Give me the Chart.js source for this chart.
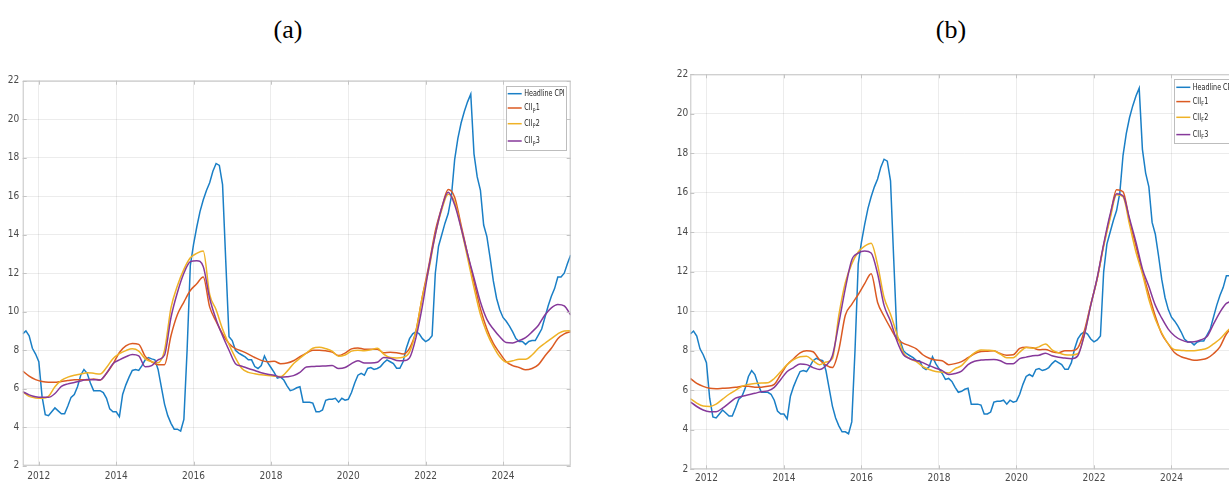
<!DOCTYPE html>
<html>
<head>
<meta charset="utf-8">
<script src="https://cdn.jsdelivr.net/npm/chart.js@4.4.1/dist/chart.umd.min.js"></script>
<style>
  html, body { margin: 0; padding: 0; background: #fff; overflow: hidden; width: 1229px; height: 482px; }
  .panel { position: absolute; }
  .cap { position: absolute; font-family: "Liberation Serif", "Times New Roman", serif; font-size: 26px; color: #000; transform: translate(-50%, -50%); white-space: nowrap; }
</style>
</head>
<body>
<div class="cap" style="left:288px; top:30px">(a)</div>
<div class="cap" style="left:951px; top:30px">(b)</div>
<canvas id="chartA" class="panel" width="590" height="440" style="left:0; top:60px; width:590px; height:440px"></canvas>
<canvas id="chartB" class="panel" width="600" height="440" style="left:660px; top:60px; width:600px; height:440px"></canvas>
<script>
// Headline CPI, monthly, Aug 2011 .. Oct 2025 (y/y %)
const cpiHeadline = [
  8.85, 9.0, 8.75, 8.1, 7.8,
  7.4, 5.6, 4.65, 4.6, 4.8, 5.0, 4.85, 4.7, 4.7, 5.1, 5.55, 5.7,
  6.1, 6.7, 7.0, 6.8, 6.3, 5.9, 5.9, 5.9, 5.8, 5.5, 4.95, 4.8,
  4.8, 4.55, 5.7, 6.2, 6.6, 6.95, 7.0, 6.95, 7.2, 7.5, 7.62, 7.55,
  7.5, 7.0, 6.1, 5.2, 4.6, 4.2, 3.9, 3.9, 3.8, 4.4, 8.0, 12.4,
  13.5, 14.4, 15.2, 15.8, 16.3, 16.7, 17.3, 17.7, 17.6, 16.6, 12.6, 8.7,
  8.5, 8.0, 7.85, 7.75, 7.65, 7.5, 7.5, 7.15, 7.05, 7.2, 7.7, 7.35,
  7.1, 6.85, 6.55, 6.6, 6.45, 6.15, 5.9, 5.95, 6.05, 6.1, 5.3, 5.3,
  5.3, 5.25, 4.8, 4.8, 4.9, 5.4, 5.45, 5.45, 5.5, 5.3, 5.5, 5.4,
  5.45, 5.8, 6.3, 6.7, 6.8, 6.7, 7.05, 7.1, 7.0, 7.05, 7.15, 7.35,
  7.5, 7.4, 7.3, 7.06, 7.06, 7.4, 8.1, 8.6, 8.85, 8.96, 8.85, 8.6,
  8.45, 8.55, 8.75, 12.0, 13.4, 14.0, 14.6, 15.1, 16.0, 17.9, 19.0, 19.8,
  20.4, 20.9, 21.3, 18.2, 17.0, 16.3, 14.5, 13.9, 12.8, 11.6, 10.7, 10.1,
  9.7, 9.5, 9.25, 8.95, 8.6, 8.45, 8.45, 8.3, 8.45, 8.5, 8.5, 8.8,
  9.1, 9.7, 10.3, 10.8, 11.2, 11.8, 11.8, 12.0, 12.5, 12.95
];

// Core inflation indicators, every second month, Aug 2011 .. Oct 2025
const ciiP1 = [
  6.92, 6.65, 6.47, 6.37, 6.33, 6.33, 6.38, 6.42, 6.47, 6.47,
  6.45, 6.5, 6.45, 6.8, 7.28, 7.88, 8.22, 8.35, 8.3, 7.68,
  7.4, 7.25, 7.25, 8.75, 9.85, 10.5, 11.1, 11.45, 11.8, 10.25,
  9.5, 8.85, 8.35, 8.08, 7.95, 7.8, 7.62, 7.47, 7.4, 7.42,
  7.3, 7.33, 7.45, 7.66, 7.85, 8.0, 8.0, 7.97, 7.9, 7.72,
  7.85, 8.07, 8.12, 8.05, 8.05, 8.05, 7.87, 7.9, 7.87, 7.8,
  8.1, 9.0, 10.8, 12.4, 14.2, 15.4, 16.35, 15.95, 14.5, 13.0,
  11.55, 10.15, 9.1, 8.35, 7.85, 7.4, 7.2, 7.1, 6.98, 7.05,
  7.25, 7.7, 8.1, 8.6, 8.85, 8.96
];
const ciiP2 = [
  5.85, 5.6, 5.52, 5.5, 5.6, 6.1, 6.43, 6.6, 6.7, 6.76,
  6.83, 6.8, 6.76, 7.1, 7.56, 7.82, 7.98, 8.07, 7.95, 7.55,
  7.4, 7.35, 8.0, 10.2, 11.35, 12.2, 12.8, 13.03, 13.15, 10.9,
  10.1, 9.1, 8.3, 7.6, 7.05, 6.85, 6.78, 6.72, 6.68, 6.65,
  6.63, 6.9, 7.3, 7.58, 7.85, 8.1, 8.15, 8.08, 7.95, 7.68,
  7.75, 7.95, 8.0, 7.97, 8.02, 8.1, 7.8, 7.62, 7.6, 7.63,
  7.9, 9.0, 10.8, 12.2, 14.0, 15.3, 16.1, 15.7, 14.35, 12.8,
  11.25, 9.85, 8.9, 8.2, 7.66, 7.38, 7.45, 7.53, 7.53, 7.75,
  8.1, 8.36, 8.6, 8.85, 9.0, 9.01
];
const ciiP3 = [
  5.85, 5.68, 5.58, 5.55, 5.55, 5.75, 6.12, 6.25, 6.32, 6.4,
  6.48, 6.47, 6.45, 6.8, 7.3, 7.5, 7.66, 7.78, 7.7, 7.14,
  7.2, 7.5, 7.75, 9.7, 11.0, 12.0, 12.6, 12.65, 12.35, 10.7,
  9.6, 8.75, 8.0, 7.3, 7.17, 7.05, 6.95, 6.83, 6.75, 6.7,
  6.6, 6.62, 6.68, 6.85, 7.13, 7.15, 7.17, 7.18, 7.2, 7.05,
  7.1, 7.3, 7.45, 7.33, 7.33, 7.37, 7.62, 7.58, 7.47, 7.45,
  7.6, 8.65, 10.3, 12.3, 14.0, 15.4, 16.2, 15.55, 14.35, 13.0,
  11.75, 10.5, 9.6, 9.1, 8.7, 8.4, 8.38, 8.5, 8.65, 8.95,
  9.3, 9.83, 10.2, 10.38, 10.3, 9.83
];
const ciiF1 = [
  6.6, 6.35, 6.2, 6.1, 6.08, 6.1, 6.12, 6.15, 6.2, 6.2,
  6.16, 6.16, 6.2, 6.3, 6.8, 7.3, 7.6, 7.9, 8.0, 7.95,
  7.55, 7.28, 7.15, 8.05, 9.8, 10.35, 10.85, 11.4, 11.9, 10.45,
  9.75, 9.15, 8.6, 8.38, 8.25, 8.1, 7.8, 7.62, 7.53, 7.5,
  7.3, 7.35, 7.45, 7.65, 7.85, 7.96, 7.98, 8.0, 7.86, 7.78,
  7.8, 8.12, 8.18, 8.15, 8.05, 8.07, 7.95, 7.9, 8.0, 8.0,
  8.15, 9.0, 10.35, 11.65, 13.35, 14.8, 16.15, 16.05, 14.6, 13.3,
  12.0, 10.85, 9.75, 8.85, 8.35, 7.9, 7.7, 7.6, 7.52, 7.55,
  7.62, 7.85, 8.2, 8.85, 9.2, 9.3
];
const ciiF2 = [
  5.58, 5.35, 5.2, 5.18, 5.3, 5.55, 5.8, 6.0, 6.2, 6.3,
  6.35, 6.37, 6.38, 6.6, 6.95, 7.3, 7.55, 7.7, 7.73, 7.5,
  7.3, 7.43, 7.6, 9.8, 11.45, 12.4, 13.0, 13.3, 13.45, 12.35,
  10.7, 9.85, 8.85, 7.9, 7.6, 7.45, 7.2, 7.05, 6.95, 6.92,
  6.88, 7.1, 7.25, 7.6, 7.9, 8.04, 8.03, 8.0, 7.83, 7.65,
  7.65, 7.93, 8.17, 8.13, 8.2, 8.35, 8.05, 7.9, 7.8, 7.79,
  7.85, 8.8, 10.3, 11.65, 13.3, 14.7, 15.9, 15.8, 14.4, 13.0,
  11.9, 10.6, 9.6, 8.9, 8.35, 8.05, 8.02, 8.0, 8.0, 8.05,
  8.13, 8.35, 8.6, 8.95, 9.25, 9.35
];
const ciiF3 = [
  5.42, 5.18, 5.0, 4.92, 4.92, 5.1, 5.35, 5.6, 5.7, 5.78,
  5.85, 5.93, 5.97, 6.15, 6.55, 6.95, 7.15, 7.33, 7.3, 7.15,
  7.05, 7.25, 7.75, 9.4, 11.15, 12.6, 12.95, 13.05, 12.95, 11.9,
  10.3, 9.5, 8.5, 7.8, 7.6, 7.5, 7.4, 7.25, 7.12, 7.0,
  6.8, 6.85, 6.97, 7.3, 7.47, 7.53, 7.55, 7.56, 7.5, 7.35,
  7.35, 7.6, 7.68, 7.75, 7.78, 7.88, 7.75, 7.67, 7.63, 7.6,
  7.75, 8.8, 10.3, 11.7, 13.4, 14.9, 15.95, 15.85, 14.7, 13.5,
  12.15, 11.25, 10.3, 9.65, 9.1, 8.75, 8.55, 8.45, 8.46, 8.55,
  8.72, 9.35, 9.95, 10.4, 10.5, 10.45
];

// Axis ticks
const yearTicks = [2012, 2014, 2016, 2018, 2020, 2022, 2024];
const valueTicks = [2, 4, 6, 8, 10, 12, 14, 16, 18, 20, 22];

// Series names; CII labels carry a subscript (P = panel a, F = panel b)
const seriesNames = ['Headline CPI', 'CII', 'CII', 'CII'];
const seriesSuffix = ['', '1', '2', '3'];
const seriesColors = ['#1a7fc6', '#DB5A22', '#EFB226', '#86399A'];

// monthly series start in Aug 2011
const monthX = i => 2011 + (7 + i) / 12;
const bimonthX = k => 2011 + (7 + 2 * k) / 12;
const toPoints = (vals, xf) => vals.map((v, i) => ({ x: xf(i), y: v }));

const narrow = '"Liberation Sans Narrow", "DejaVu Sans Condensed", "Arial Narrow", sans-serif';
const FRAME = '#c4c4c4';

// axes box with inward tick marks, drawn over the lines
const framePlugin = {
  id: 'frameBox',
  afterDatasetsDraw(chart) {
    const { ctx, chartArea: a, scales } = chart;
    ctx.save();
    ctx.strokeStyle = FRAME;
    ctx.lineWidth = 1;
    ctx.strokeRect(a.left + 0.5, a.top + 0.5, a.right - a.left - 1, a.bottom - a.top - 1);
    ctx.beginPath();
    const t = 4;
    yearTicks.forEach(v => {
      const x = Math.round(scales.x.getPixelForValue(v)) + 0.5;
      ctx.moveTo(x, a.bottom); ctx.lineTo(x, a.bottom - t);
      ctx.moveTo(x, a.top); ctx.lineTo(x, a.top + t);
    });
    valueTicks.forEach(v => {
      const y = Math.round(scales.y.getPixelForValue(v)) + 0.5;
      ctx.moveTo(a.left, y); ctx.lineTo(a.left + t, y);
      ctx.moveTo(a.right, y); ctx.lineTo(a.right - t, y);
    });
    ctx.stroke();
    ctx.restore();
  }
};

// legend box in the upper right corner of the axes
const legendPlugin = {
  id: 'boxLegend',
  afterDraw(chart, args, opts) {
    const { ctx, chartArea: a } = chart;
    const w = 60.3, h = 64;
    const bx = a.right - 4.7 - w, by = a.top + 5;
    const rows = [8, 22.3, 38, 55.3];
    const mainFont = '9px ' + narrow, subFont = '6.5px ' + narrow;
    ctx.save();
    ctx.fillStyle = '#fff';
    ctx.fillRect(bx, by, w, h);
    ctx.strokeStyle = '#bdbdbd';
    ctx.lineWidth = 1;
    ctx.strokeRect(Math.round(bx) + 0.5, Math.round(by) + 0.5, Math.round(w), Math.round(h));
    // squeeze the labels so the longest one fits inside the box
    ctx.font = mainFont;
    const sx = Math.min(1, 40.5 / ctx.measureText(seriesNames[0]).width);
    seriesNames.forEach((name, i) => {
      const y = by + rows[i];
      ctx.strokeStyle = seriesColors[i];
      ctx.lineWidth = 1.5;
      ctx.beginPath();
      ctx.moveTo(bx + 2, y); ctx.lineTo(bx + 16, y);
      ctx.stroke();
      ctx.save();
      ctx.translate(bx + 18.5, y);
      ctx.scale(sx, 1);
      ctx.fillStyle = '#222';
      ctx.textBaseline = 'middle';
      ctx.font = mainFont;
      let x = 0;
      ctx.fillText(name, x, 0);
      x += ctx.measureText(name).width;
      if (seriesSuffix[i]) {
        ctx.font = subFont;
        ctx.fillText(opts.sub, x + 0.3, 3);
        x += ctx.measureText(opts.sub).width + 0.6;
        ctx.font = mainFont;
        ctx.fillText(seriesSuffix[i], x, 0);
      }
      ctx.restore();
    });
    ctx.restore();
  }
};

function makePanel(id, cii, sub, geo) {
  const datasets = [
    { label: seriesNames[0], data: toPoints(cpiHeadline, monthX), borderColor: seriesColors[0], order: 4, tension: 0 },
    { label: 'CII ' + sub + '1', data: toPoints(cii[0], bimonthX), borderColor: seriesColors[1], order: 3, cubicInterpolationMode: 'monotone' },
    { label: 'CII ' + sub + '2', data: toPoints(cii[1], bimonthX), borderColor: seriesColors[2], order: 2, cubicInterpolationMode: 'monotone' },
    { label: 'CII ' + sub + '3', data: toPoints(cii[2], bimonthX), borderColor: seriesColors[3], order: 1, cubicInterpolationMode: 'monotone' }
  ].map(d => Object.assign({ borderWidth: 1.5, pointRadius: 0, fill: false }, d));

  return new Chart(document.getElementById(id), {
    type: 'line',
    data: { datasets },
    plugins: [framePlugin, legendPlugin],
    options: {
      responsive: false,
      animation: false,
      devicePixelRatio: 1,
      events: [],
      layout: { padding: { left: 0, top: geo.padTop, right: geo.padRight, bottom: geo.padBottom } },
      plugins: { legend: { display: false }, title: { display: false }, tooltip: { enabled: false }, boxLegend: { sub } },
      scales: {
        x: {
          type: 'linear',
          min: 2011 + 7 / 12,
          max: 2025.75,
          afterBuildTicks: s => { s.ticks = yearTicks.map(v => ({ value: v })); },
          afterFit: s => { s.height = 20; },
          grid: { color: 'rgba(0,0,0,0.075)', drawTicks: false, lineWidth: 1 },
          border: { display: false },
          ticks: { padding: geo.xPad, color: '#4a4a4a', font: { family: narrow, size: 10 }, maxRotation: 0, callback: v => String(v) }
        },
        y: {
          min: 2,
          max: 22,
          afterBuildTicks: s => { s.ticks = valueTicks.map(v => ({ value: v })); },
          afterFit: s => { s.width = geo.yWidth; },
          grid: { color: 'rgba(0,0,0,0.075)', drawTicks: false, lineWidth: 1 },
          border: { display: false },
          ticks: { padding: geo.yPad, color: '#4a4a4a', font: { family: narrow, size: 10 }, callback: v => String(v) }
        }
      }
    }
  });
}

makePanel('chartA', [ciiP1, ciiP2, ciiP3], 'P',
  { yWidth: 22.7, padTop: 20.7, padRight: 19.3, padBottom: 14.3, xPad: 5, yPad: 3.4 });
makePanel('chartB', [ciiF1, ciiF2, ciiF3], 'F',
  { yWidth: 30.3, padTop: 14.3, padRight: 20.7, padBottom: 10.7, xPad: 3.5, yPad: 2 });
</script>
</body>
</html>
